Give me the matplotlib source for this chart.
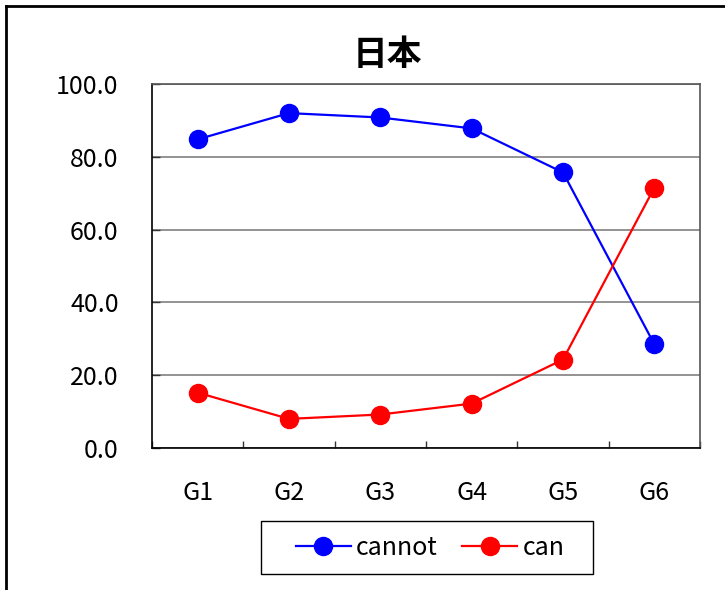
import matplotlib
matplotlib.use("Agg")
import matplotlib.pyplot as plt
from matplotlib.lines import Line2D
from matplotlib.patches import Rectangle
import numpy as np

plt.rcParams['font.family'] = ['Noto Sans CJK JP', 'DejaVu Sans']

# data
categories = ['G1', 'G2', 'G3', 'G4', 'G5', 'G6']
cannot = [84.8, 92.0, 90.8, 87.8, 75.7, 28.5]
can = [15.2, 8.0, 9.2, 12.2, 24.3, 71.5]
title = '日本'

fig = plt.figure(figsize=(7.25, 5.9), dpi=100)
ax = fig.add_axes([152 / 725, 1 - 448 / 590, 548 / 725, 364 / 590])

x = np.arange(len(categories))
ax.plot(x, cannot, color='#0000ff', lw=1.6, marker='o', ms=13, label='cannot', zorder=3)
ax.plot(x, can, color='#ff0000', lw=1.6, marker='o', ms=13, label='can', zorder=3)

ax.set_xlim(-0.5, len(categories) - 0.5)
ax.set_ylim(0, 100)
ax.set_yticks(np.arange(0, 101, 20))
ax.set_yticklabels([f'{v:.1f}' for v in range(0, 101, 20)])
ax.set_xticks(x)
ax.set_xticklabels(categories)
ax.set_xticks(np.arange(-0.5, len(categories), 1), minor=True)

ax.tick_params(axis='x', which='major', length=0, pad=23, labelsize=18)
ax.tick_params(axis='x', which='minor', direction='in', length=5, width=1, color='#333333')
ax.tick_params(axis='y', direction='in', length=6, width=1, pad=24, labelsize=18, color='#333333')

ax.grid(axis='y', color='#808080', lw=1.2, zorder=0)
ax.set_axisbelow(True)
for s in ['top', 'right']:
    ax.spines[s].set_color('#555555')
    ax.spines[s].set_linewidth(1.2)
for s in ['left', 'bottom']:
    ax.spines[s].set_color('black')
    ax.spines[s].set_linewidth(1.2)

fig.text(387 / 725, 1 - 55 / 590, title, ha='center', va='center',
         fontsize=25, fontweight='bold')

# legend entries, with an Excel-like wide box drawn behind them
leg = fig.legend(loc='center', bbox_to_anchor=(430 / 725, 1 - 548 / 590), ncol=2,
                 fontsize=18, frameon=False, handlelength=2.2,
                 columnspacing=1.0, handletextpad=0.2)
fig.add_artist(Rectangle((261 / 725, 1 - 574 / 590), 332 / 725, 53 / 590,
                         transform=fig.transFigure, fill=False,
                         edgecolor='black', lw=1))

# outer chart border (only left and top visible)
fig.add_artist(Line2D([6 / 725, 6 / 725], [0, 1 - 6 / 590], color='black', lw=2,
                      transform=fig.transFigure))
fig.add_artist(Line2D([6 / 725, 1], [1 - 6 / 590, 1 - 6 / 590], color='black', lw=2,
                      transform=fig.transFigure))

fig.savefig('out.png', dpi=100)
